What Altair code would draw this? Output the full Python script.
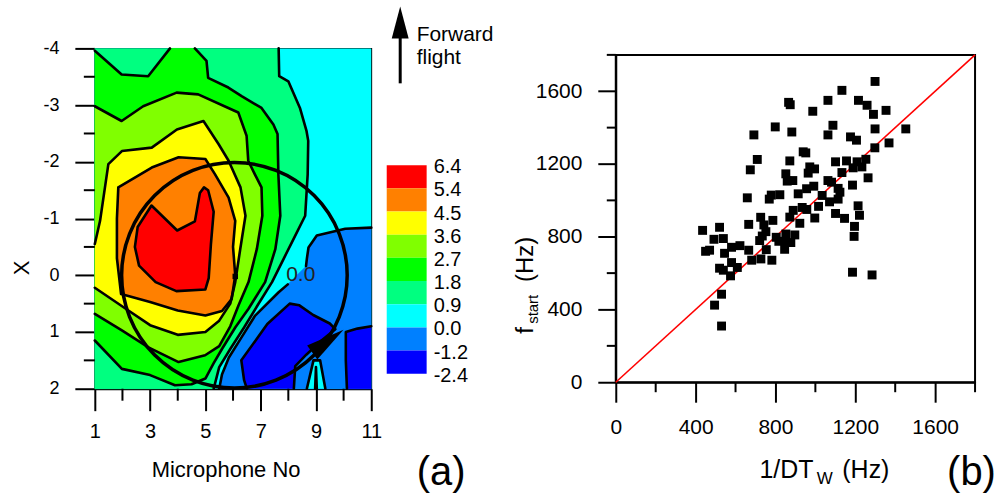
import altair as alt
import pandas as pd

FONT = "Liberation Sans"

# ---------------- panel (a) : data ----------------
mic_major = [1, 3, 5, 7, 9, 11]
mic_minor = [2, 4, 6, 8, 10]
xpos_major = [-4, -3, -2, -1, 0, 1, 2]
xpos_minor = [-3.5, -2.5, -1.5, -0.5, 0.5, 1.5]

level_labels = ["6.4", "5.4", "4.5", "3.6", "2.7", "1.8", "0.9", "0.0", "-1.2", "-2.4"]
band_colors = ["#FF0000", "#FF8000", "#FFFF00", "#80FF00", "#00FF00",
               "#00FF80", "#00FFFF", "#0080FF", "#0000FF"]

# contour lines, points are (microphone no, X)
c09 = [(7.65, -4.0), (7.67, -3.51), (8.0, -3.42), (8.42, -2.95), (8.66, -2.54), (8.72, -2.37),
       (8.70, -1.78), (8.61, -1.05), (8.25, -0.70), (7.83, -0.29), (7.41, 0.12), (6.9, 0.52),
       (6.4, 0.92), (5.9, 1.3), (5.5, 1.62), (5.3, 2.0)]
c18_a = [(1.0, -3.96), (1.97, -3.54), (2.93, -3.51), (3.72, -4.0)]
c18_b = [(4.62, -4.0), (5.04, -3.78), (5.1, -3.48), (5.83, -3.31), (6.31, -3.16), (7.03, -2.95),
         (7.46, -2.66), (7.61, -2.49), (7.64, -1.78), (7.71, -1.05), (7.53, -0.46), (7.16, 0.12),
         (6.56, 0.59), (6.08, 0.92), (5.6, 1.3), (5.3, 1.55), (5.0, 1.82), (4.5, 1.92),
         (3.9, 1.94), (3.0, 1.76), (1.98, 1.65), (1.0, 1.15)]
c27 = [(1.0, -2.98), (1.97, -2.72), (2.75, -2.98), (3.96, -3.22), (4.74, -3.19), (5.83, -2.95),
       (6.19, -2.87), (6.49, -2.46), (6.55, -2.02), (6.79, -1.78), (7.03, -1.55), (7.06, -1.05),
       (6.86, -0.46), (6.56, 0.12), (6.2, 0.53), (5.9, 0.9), (5.5, 1.25), (4.99, 1.41),
       (4.03, 1.53), (2.94, 1.27), (1.98, 0.97), (1.0, 0.68)]
c36 = [(1.0, -0.55), (1.19, -0.96), (1.49, -1.96), (1.98, -2.19), (3.06, -2.25), (3.97, -2.57),
       (4.93, -2.72), (5.48, -2.31), (5.84, -2.02), (6.27, -1.55), (6.45, -1.05), (6.26, -0.46),
       (6.08, 0.12), (5.9, 0.5), (5.5, 0.8), (5.0, 1.0), (4.0, 1.05), (3.0, 0.88), (2.0, 0.55),
       (1.0, 0.22)]
c45 = [(1.85, -1.55), (3.06, -1.9), (4.03, -2.08), (5.0, -2.05), (5.35, -1.78), (5.84, -1.37),
       (6.08, -0.96), (6.0, -0.5), (6.08, 0.0), (5.95, 0.42), (5.6, 0.63), (5.0, 0.71),
       (4.0, 0.62), (3.0, 0.47), (1.95, 0.33), (1.8, -0.3), (1.8, -1.0)]
c54 = [(2.55, -0.85), (3.05, -1.23), (3.98, -0.79), (4.62, -0.95), (4.8, -1.45), (4.95, -1.55),
       (5.1, -1.5), (5.3, -1.12), (5.2, -0.55), (5.12, 0.05), (5.0, 0.25), (3.95, 0.28),
       (3.2, 0.12), (2.6, -0.17), (2.45, -0.5)]
c00 = [(11.0, -0.84), (10.06, -0.82), (9.03, -0.70), (8.73, -0.49), (8.67, -0.29), (8.64, -0.16),
       (7.98, 0.16), (7.65, 0.30), (6.8, 0.71), (6.3, 1.1), (5.85, 1.45), (5.6, 1.75), (5.5, 2.0)]
c00_spike = [(8.67, 2.0), (8.91, 1.5), (9.15, 1.5), (9.34, 2.0)]
c09_spike = [(8.97, 2.0), (9.0, 1.62), (9.03, 2.0)]
cm12_a = [(6.5, 2.0), (6.4, 1.85), (6.3, 1.5), (7.24, 0.86), (8.05, 0.5), (8.4, 0.53), (8.9, 0.7),
          (9.5, 0.85), (9.7, 0.95), (9.2, 1.15), (8.65, 1.4), (8.25, 1.6), (8.2, 2.0)]
cm12_b = [(11.0, 0.9), (10.5, 0.94), (10.08, 1.0), (10.08, 1.5), (10.12, 2.0)]

label_00 = (8.45, 0.0)
circle_centre = (6.05, 0.0)
rotor_dot = (6.08, 0.02)
rotation_arrow = (9.43, 1.16)

# ---------------- panel (b) : data ----------------
dtw_ticks_major = [0, 400, 800, 1200, 1600]
dtw_ticks_minor = [200, 600, 1000, 1400, 1800]

freq_dtw = [1299, 1133, 866, 874, 1063, 1216, 1259, 987, 1354, 1291,
            1088, 799, 882, 692, 1063, 1176, 1206, 1299, 1369, 1453,
            1298, 939, 952, 709, 872, 1101, 1156, 1209, 1253, 674,
            972, 996, 964, 1133, 1189, 1233, 852, 859, 887, 1063,
            1081, 1264, 1186, 992, 956, 1114, 1123, 914, 822, 779,
            659, 769, 1034, 1071, 1114, 889, 934, 957, 1016, 1214,
            1101, 1221, 1146, 997, 872, 726, 787, 666, 742, 922,
            1196, 435, 520, 752, 492, 539, 734, 804, 852, 897,
            1194, 817, 851, 877, 721, 622, 580, 666, 754, 846,
            450, 470, 545, 681, 727, 782, 580, 609, 520, 539,
            575, 1186, 1284, 530, 495, 530]
freq_start = [1654, 1605, 1539, 1526, 1550, 1550, 1523, 1490, 1495, 1473,
              1413, 1404, 1376, 1360, 1360, 1349, 1331, 1393, 1316, 1393,
              1289, 1267, 1261, 1225, 1217, 1212, 1217, 1212, 1226, 1168,
              1184, 1173, 1150, 1153, 1179, 1184, 1146, 1106, 1109, 1109,
              1100, 1124, 1084, 1078, 1064, 1066, 1045, 1036, 1031, 1029,
              1014, 1007, 1027, 992, 1007, 945, 961, 950, 967, 970,
              928, 918, 901, 903, 908, 907, 890, 868, 865, 874,
              857, 835, 852, 828, 786, 790, 804, 797, 815, 810,
              802, 775, 771, 768, 779, 751, 742, 726, 729, 731,
              720, 726, 709, 671, 678, 671, 658, 631, 627, 616,
              585, 605, 590, 484, 424, 309]
identity_x = [0, 1800]
identity_y = [0, 1800]

# ---------------- layout ----------------
WA, HA = 277, 341
WB, HB = 360, 328
OX, OY = 94, 47          # where panel (a)'s plot area starts on the page
one = pd.DataFrame({"a": [0]})


def pts(points, name):
    return pd.DataFrame({"mx": [p[0] for p in points], "xv": [p[1] for p in points],
                         "i": list(range(len(points))), "lid": name})


ax_mic = alt.Axis(values=mic_major, tickSize=22, labelPadding=11, labelFontSize=20,
                  title=None, labelExpr="'' + datum.value", labelFlush=False)
ax_x = alt.Axis(values=xpos_major, tickSize=20, labelPadding=16, labelFontSize=18,
                title=None, labelExpr="'' + datum.value", labelFlush=False)
sx = alt.Scale(domain=[1, 11], nice=False, zero=False)
sy = alt.Scale(domain=[-4, 2], reverse=True, nice=False, zero=False)
X = alt.X("mx:Q", scale=sx, axis=ax_mic)
Y = alt.Y("xv:Q", scale=sy, axis=ax_x)

# invisible frame that fixes the page bounds to 1000 x 495
layers = [alt.Chart(one).mark_rect(opacity=0, color="white").encode(
    x=alt.value(-OX), x2=alt.value(1000 - OX), y=alt.value(-OY), y2=alt.value(495 - OY))]
layers.append(alt.Chart(one).mark_rect(color="#00FFFF").encode(
    x=alt.value(0), x2=alt.value(WA), y=alt.value(0), y2=alt.value(HA)))

polys = [
    (c09 + [(1, 2), (1, -4)], "#00FF80"),
    (c18_a + c18_b, "#00FF00"),
    (c27, "#80FF00"),
    (c36, "#FFFF00"),
    (c45, "#FF8000"),
    (c54, "#FF0000"),
    (c00 + [(11, 2)], "#0080FF"),
    (cm12_a, "#0000FF"),
    (cm12_b + [(11, 2)], "#0000FF"),
    (c00_spike, "#00FFFF"),
    (c09_spike, "#00FF80"),
]
for k, (pp, col) in enumerate(polys):
    layers.append(alt.Chart(pts(pp, f"p{k}")).mark_line(
        fill=col, stroke=col, strokeWidth=0.6).encode(x=X, y=Y, order="i:Q"))

lines = [c09, c18_a, c18_b, c27, c36, c45 + c45[:1], c54 + c54[:1], c00[:6], c00[6:],
         c00_spike, c09_spike, cm12_a, cm12_b]
df_lines = pd.concat([pts(l, f"l{k}") for k, l in enumerate(lines)], ignore_index=True)
layers.append(alt.Chart(df_lines).mark_line(color="black", strokeWidth=2.6, strokeJoin="round",
                                             strokeCap="round").encode(
    x=X, y=Y, detail="lid:N", order="i:Q"))

layers.append(alt.Chart(pts([label_00], "t")).mark_text(
    text="0.0", font=FONT, fontSize=21, color="#222222", align="center", baseline="middle").encode(x=X, y=Y))
layers.append(alt.Chart(pts([circle_centre], "c")).mark_point(
    shape="circle", filled=False, stroke="black", strokeWidth=3.5, size=51076, opacity=1).encode(x=X, y=Y))
layers.append(alt.Chart(pts([rotor_dot], "d")).mark_point(
    shape="square", filled=True, color="black", size=30, opacity=1).encode(x=X, y=Y))
layers.append(alt.Chart(pts([rotation_arrow], "r")).mark_point(
    shape="M0,-1L0.45,1L-0.45,1Z", filled=True, color="black", size=1500, angle=54,
    opacity=1).encode(x=X, y=Y))

# minor ticks
layers.append(alt.Chart(pd.DataFrame({"mx": mic_minor})).mark_rule(color="black", strokeWidth=2).encode(
    x=X, y=alt.value(HA), y2=alt.value(HA + 12)))
layers.append(alt.Chart(pd.DataFrame({"xv": xpos_minor})).mark_rule(color="black", strokeWidth=2).encode(
    y=Y, x=alt.value(0), x2=alt.value(-11)))


def txt(s, x, y, size, align="left", baseline="alphabetic", angle=0):
    kw = dict(text=s, font=FONT, fontSize=size, color="black", align=align, baseline=baseline)
    if angle:
        kw["angle"] = angle
    return alt.Chart(one).mark_text(**kw).encode(x=alt.value(x), y=alt.value(y))


layers.append(txt("Microphone No", 131.5, 429, 22, align="center"))
layers.append(txt("X", -66, 220, 22, align="center", angle=270))
layers.append(txt("(a)", 322.5, 437, 40))
layers.append(txt("Forward", 322.5, -7.7, 21))
layers.append(txt("flight", 322.5, 15.3, 21))
layers.append(alt.Chart(one).mark_rule(color="black", strokeWidth=3).encode(
    x=alt.value(306), y=alt.value(-12), y2=alt.value(35)))
layers.append(alt.Chart(one).mark_point(shape="M0,-1L0.53,1L-0.53,1Z", filled=True, color="black",
                                         size=1024, opacity=1).encode(x=alt.value(306), y=alt.value(-26)))

contour = alt.layer(*layers)

# colour bar
cb_scale = alt.Scale(domain=[0, 9], range=[117, 326], nice=False, zero=False)
df_bar = pd.DataFrame({"k": list(range(9)), "k2": list(range(1, 10)), "col": band_colors})
df_lab = pd.DataFrame({"k": list(range(10)), "t": level_labels})
bar = alt.Chart(df_bar).mark_rect().encode(
    x=alt.value(292.5), x2=alt.value(332.5),
    y=alt.Y("k:Q", scale=cb_scale, axis=None), y2="k2:Q",
    color=alt.Color("col:N", scale=None))
bar_lab = alt.Chart(df_lab).mark_text(font=FONT, fontSize=20, color="black", align="left",
                                      baseline="middle", dy=2).encode(
    x=alt.value(339.5), y=alt.Y("k:Q", scale=cb_scale, axis=None), text="t:N")
colorbar = alt.layer(bar, bar_lab)

left = alt.layer(contour, colorbar).resolve_scale(y="independent").properties(
    width=WA, height=HA, view=alt.ViewBackground(stroke="black", strokeWidth=1.2))

# ---------------- panel (b) ----------------
sxb = alt.Scale(domain=[0, 1800], nice=False, zero=False)
syb = alt.Scale(domain=[0, 1800], nice=False, zero=False)
axb_x = alt.Axis(values=dtw_ticks_major, tickSize=20, labelPadding=14, labelFontSize=21,
                 title=None, labelFlush=False, format="d")
axb_y = alt.Axis(values=dtw_ticks_major, tickSize=18, labelPadding=16, labelFontSize=21,
                 title=None, labelFlush=False, format="d")
XB = alt.X("dtw:Q", scale=sxb, axis=axb_x)
YB = alt.Y("fst:Q", scale=syb, axis=axb_y)

df_sc = pd.DataFrame({"dtw": freq_dtw, "fst": freq_start})
df_id = pd.DataFrame({"dtw": identity_x, "fst": identity_y})

rlayers = [
    alt.Chart(df_id).mark_line(color="#FF0000", strokeWidth=1.6).encode(x=XB, y=YB),
    alt.Chart(df_sc).mark_point(shape="square", filled=True, color="black", size=80,
                                opacity=1).encode(x=XB, y=YB),
    alt.Chart(pd.DataFrame({"dtw": dtw_ticks_minor})).mark_rule(color="black", strokeWidth=2).encode(
        x=XB, y=alt.value(HB), y2=alt.value(HB + 10)),
    alt.Chart(pd.DataFrame({"fst": dtw_ticks_minor})).mark_rule(color="black", strokeWidth=2).encode(
        y=YB, x=alt.value(0), x2=alt.value(-9)),
    txt("f", -83, 279.5, 24, angle=270),
    txt("start", -78, 269.5, 15, angle=270),
    txt("(Hz)", -83, 227.5, 24, angle=270),
    txt("1/DT", 144, 423.5, 25),
    txt("W", 201.5, 429.5, 17),
    txt("(Hz)", 227, 423.5, 25),
    txt("(b)", 332, 430.5, 40),
]
right = alt.layer(*rlayers).properties(
    width=WB, height=HB, view=alt.ViewBackground(stroke="black", strokeWidth=2))

chart = alt.hconcat(left, right, spacing=245, bounds="flush", center=True).properties(
    padding=0,
    autosize=alt.AutoSizeParams(type="pad"),
).configure_axis(
    labelFont=FONT, labelColor="black", domainColor="black", tickColor="black",
    domainWidth=2, tickWidth=2, grid=False,
)

chart.save("out.html", embed_options={"renderer": "svg", "actions": False})
